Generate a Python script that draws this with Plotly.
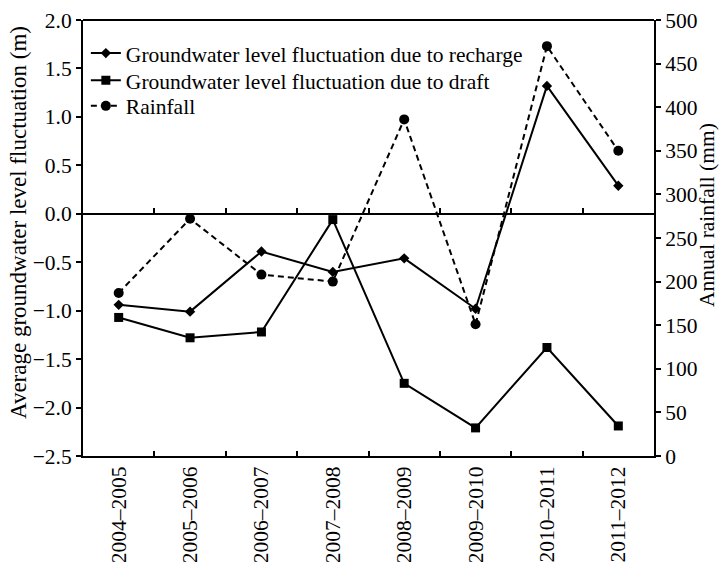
import plotly.graph_objects as go

years = ["2004–2005", "2005–2006", "2006–2007", "2007–2008",
         "2008–2009", "2009–2010", "2010–2011", "2011–2012"]
recharge = [-0.94, -1.01, -0.39, -0.60, -0.46, -0.98, 1.32, 0.29]
draft = [-1.07, -1.28, -1.22, -0.06, -1.75, -2.21, -1.38, -2.19]
rainfall = [187, 272, 208, 200, 386, 151, 470, 350]

FONT = "Liberation Serif, Times New Roman, serif"
fs = 21.5

fig = go.Figure()
fig.add_trace(go.Scatter(x=years, y=recharge, mode="lines+markers",
                         name="Groundwater level fluctuation due to recharge",
                         legend="legend",
                         line=dict(color="black", width=2),
                         marker=dict(symbol="diamond", size=8, color="black")))
fig.add_trace(go.Scatter(x=years, y=draft, mode="lines+markers",
                         name="Groundwater level fluctuation due to draft",
                         legend="legend2",
                         line=dict(color="black", width=2),
                         marker=dict(symbol="square", size=9, color="black")))
fig.add_trace(go.Scatter(x=years, y=rainfall, mode="lines+markers",
                         name="Rainfall", yaxis="y2", legend="legend3",
                         line=dict(color="black", width=2, dash="6px,4px"),
                         marker=dict(symbol="circle", size=10, color="black")))
# invisible helper trace for the zero-line category axis
fig.add_trace(go.Scatter(x=years, y=[None] * len(years), xaxis="x2",
                         showlegend=False, hoverinfo="skip", mode="lines"))

y0, y1 = -2.5, 2.0
zero_pos = (0 - y0) / (y1 - y0)

leg = dict(x=0.005, xanchor="left", yanchor="middle",
           bgcolor="rgba(0,0,0,0)", font=dict(size=fs), itemwidth=30)

fig.update_layout(
    width=725, height=562,
    margin=dict(l=83, r=71, t=20, b=106),
    paper_bgcolor="white", plot_bgcolor="white",
    font=dict(family=FONT, size=fs, color="black"),
    showlegend=True,
    separators=".\u2212",
    legend=dict(leg, y=0.924),
    legend2=dict(leg, y=0.862),
    legend3=dict(leg, y=0.803),
    xaxis=dict(type="category", categoryarray=years, range=[-0.5, 7.5],
               showline=True, linecolor="black", linewidth=2,
               ticks="inside", tickson="boundaries", ticklen=5, tickwidth=2,
               tickcolor="black", tickangle=-90, showgrid=False, zeroline=False,
               tickfont=dict(size=fs), automargin=False),
    xaxis2=dict(type="category", categoryarray=years, range=[-0.5, 7.5],
                overlaying="x", anchor="free", position=zero_pos,
                showline=True, linecolor="black", linewidth=2,
                ticks="inside", tickson="boundaries", ticklen=5, tickwidth=2,
                tickcolor="black", showticklabels=False, showgrid=False,
                zeroline=False, automargin=False),
    yaxis=dict(range=[y0, y1], dtick=0.5, tickformat=".1f",
               showline=True, linecolor="black", linewidth=2,
               ticks="outside", ticklen=5, tickwidth=2, tickcolor="black",
               showgrid=False, zeroline=False, automargin=False,
               tickfont=dict(size=fs)),
    yaxis2=dict(range=[0, 500], dtick=50, overlaying="y", side="right",
                showline=True, linecolor="black", linewidth=2,
                ticks="outside", ticklen=5, tickwidth=2, tickcolor="black",
                showgrid=False, zeroline=False, automargin=False,
                tickfont=dict(size=fs)),
)
fig.add_shape(type="line", xref="paper", yref="paper", x0=0, x1=1, y0=1, y1=1,
              line=dict(color="black", width=2))
fig.add_annotation(text="Average groundwater level fluctuation (m)",
                   xref="paper", yref="paper", x=(18 - 83) / 571,
                   y=(456 - 223) / 436, textangle=-90, showarrow=False,
                   xanchor="center", yanchor="middle", font=dict(size=23))
fig.add_annotation(text="Annual rainfall (mm)",
                   xref="paper", yref="paper", x=(707 - 83) / 571,
                   y=(456 - 215) / 436, textangle=-90, showarrow=False,
                   xanchor="center", yanchor="middle", font=dict(size=fs))

fig.write_html("out.html")
